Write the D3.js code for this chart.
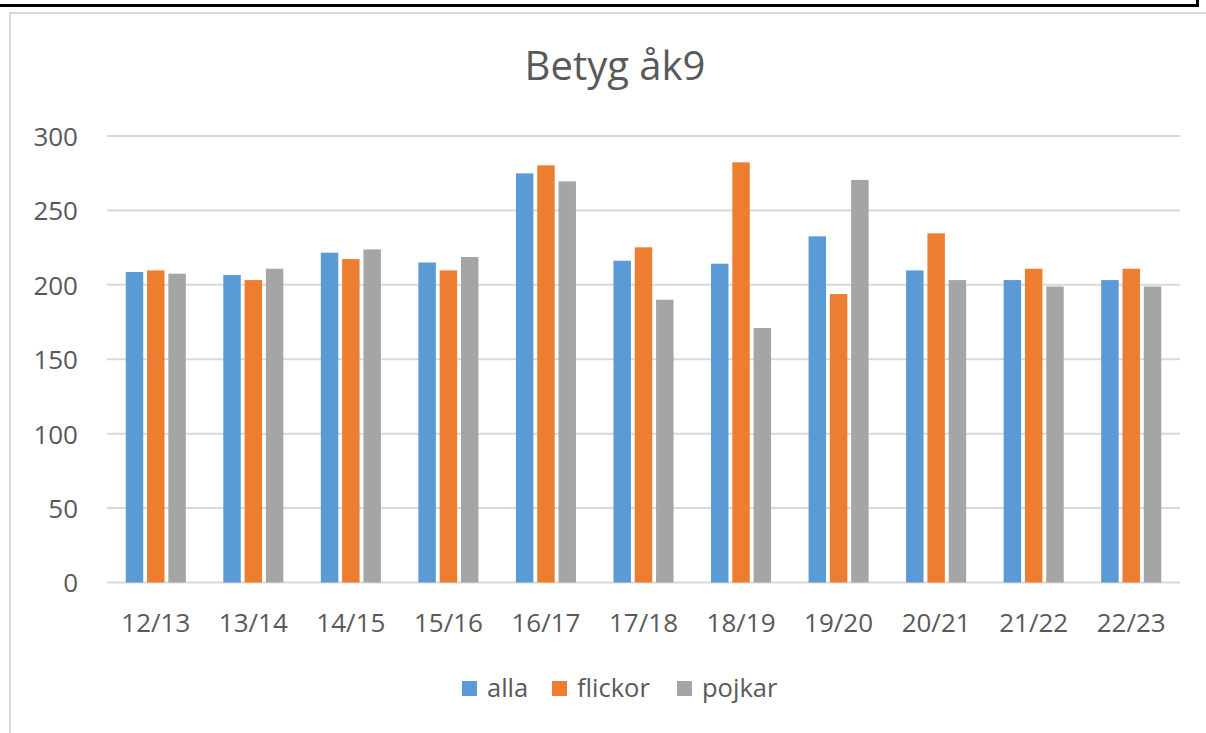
<!DOCTYPE html>
<html><head><meta charset="utf-8">
<script src="https://cdn.jsdelivr.net/npm/d3@7"></script>
<style>html,body{margin:0;padding:0;background:#fff;}svg{display:block;}</style>
</head><body>
<script>
const categories = ["12/13","13/14","14/15","15/16","16/17","17/18","18/19","19/20","20/21","21/22","22/23"];
const seriesNames = ["alla","flickor","pojkar"];
const alla    = [208.6, 206.6, 221.6, 215.0, 274.9, 216.2, 214.2, 232.6, 209.7, 203.2, 203.2];
const flickor = [209.7, 203.2, 217.3, 209.7, 280.3, 225.2, 282.3, 193.8, 234.6, 210.8, 210.8];
const pojkar  = [207.5, 210.8, 223.8, 218.7, 269.5, 190.0, 171.0, 270.5, 203.2, 198.9, 198.9];
const yTicks = [0, 50, 100, 150, 200, 250, 300];
const colors = ["#5B9BD5", "#ED7D31", "#A5A5A5"];
const values = [alla, flickor, pojkar];

const W = 1206, H = 733;
const svg = d3.select("body").append("svg").attr("width", W).attr("height", H);
const font = "'Open Sans', 'Noto Sans', sans-serif";
const txt = "#595959";

// outer boxes
svg.append("line").attr("x1",0).attr("x2",1199).attr("y1",5.5).attr("y2",5.5).attr("stroke","#000").attr("stroke-width",3);
svg.append("line").attr("x1",1197.5).attr("x2",1197.5).attr("y1",0).attr("y2",7).attr("stroke","#000").attr("stroke-width",3);
svg.append("rect").attr("x",10).attr("y",13).attr("width",1210).attr("height",740)
  .attr("fill","none").attr("stroke","#d9d9d9").attr("stroke-width",2);

const x = d3.scaleBand().domain(categories).range([107, 1180]).padding(0);
const xi = d3.scaleBand().domain(seriesNames).range([0, x.bandwidth()]).paddingInner(0.18).paddingOuter(0.88);
const y = d3.scaleLinear().domain([0, 300]).range([582.5, 136]);

// gridlines
svg.append("g").selectAll("line").data(yTicks).join("line")
  .attr("x1", 107).attr("x2", 1180)
  .attr("y1", d => y(d)).attr("y2", d => y(d))
  .attr("stroke", "#d9d9d9").attr("stroke-width", 2);

// y axis labels
const yAxis = d3.axisLeft(y).tickValues(yTicks).tickSize(0).tickPadding(0);
const gy = svg.append("g").attr("transform", "translate(78,0)").call(yAxis);
gy.select(".domain").remove();
gy.selectAll("text").attr("font-family", font).attr("font-size", 26).attr("fill", txt).attr("dy","0.36em");

// bars
seriesNames.forEach((s, si) => {
  svg.append("g").selectAll("rect").data(values[si]).join("rect")
    .attr("x", (d, i) => x(categories[i]) + xi(s))
    .attr("width", xi.bandwidth())
    .attr("y", d => y(d))
    .attr("height", d => y(0) - y(d))
    .attr("fill", colors[si]);
});

// x axis labels
const xAxis = d3.axisBottom(x).tickSize(0).tickPadding(0);
const gx = svg.append("g").call(xAxis);
gx.select(".domain").remove();
gx.selectAll("text").attr("font-family", font).attr("font-size", 26).attr("fill", txt)
  .attr("y", 632).attr("dy", null);

// title
svg.append("text").attr("x", 615).attr("y", 80).attr("text-anchor","middle")
  .attr("font-family", font).attr("font-size", 40).attr("fill", txt).text("Betyg åk9");

// legend
const legX = [462, 552, 677];
const lg = svg.append("g");
seriesNames.forEach((s, i) => {
  lg.append("rect").attr("x", legX[i]).attr("y", 681).attr("width", 15).attr("height", 15).attr("fill", colors[i]);
  lg.append("text").attr("x", legX[i] + 25).attr("y", 697).attr("font-family", font).attr("font-size", 25.5).attr("fill", txt).text(s);
});
</script>
</body></html>
